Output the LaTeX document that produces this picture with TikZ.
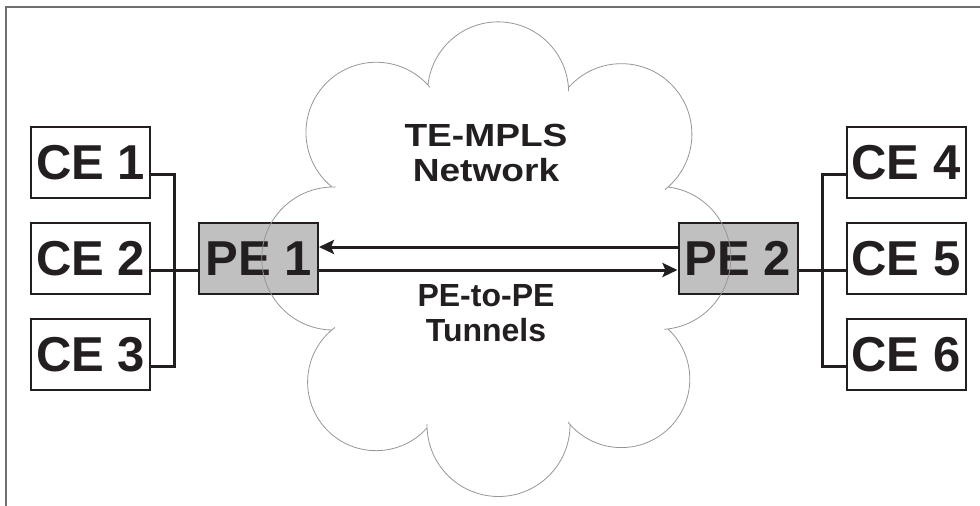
\documentclass[tikz,border=0pt]{standalone}
\usepackage{fontspec}
\setmainfont{Liberation Sans}
\newfontfamily\widefont[FakeStretch=1.16]{Liberation Sans}
\usepackage{tikz}
\usepackage{xcolor}
\usetikzlibrary{arrows.meta}
\definecolor{inkblack}{RGB}{35,31,32}
\definecolor{pegray}{RGB}{192,192,192}
\definecolor{framegray}{RGB}{110,110,110}
\definecolor{cloudgray}{RGB}{150,150,150}

\begin{document}
\begin{tikzpicture}[x=1pt, y=-1pt,
  nodebox/.style={draw=inkblack, line width=2pt, minimum width=119pt, minimum height=71pt,
    inner sep=0pt, text=inkblack, font=\bfseries\fontsize{49}{49}\selectfont},
  cebox/.style={nodebox, fill=white},
  pebox/.style={nodebox, fill=pegray},
  wire/.style={draw=inkblack, line width=3pt},
  tunnel/.style={wire, -{Stealth[length=15pt, width=14pt, inset=3pt]}},
  cloudtext/.style={inner sep=0pt, align=center, text=inkblack},
  cloudline/.style={draw=cloudgray, line width=0.8pt}]
\useasboundingbox (0,0) rectangle (980,506);
\draw[framegray, line width=2pt] (6,506) -- (6,7) -- (980,7);

\node[cebox] (ce1) at (90.5,162.5) {CE 1};
\node[cebox] (ce2) at (90.5,258.5) {CE 2};
\node[cebox] (ce3) at (90.5,354.5) {CE 3};
\node[pebox] (pe1) at (258.5,258.5) {PE 1};
\node[pebox] (pe2) at (738,258.5) {PE 2};
\node[cebox] (ce4) at (906,162.5) {CE 4};
\node[cebox] (ce5) at (906,258.5) {CE 5};
\node[cebox] (ce6) at (906,354.5) {CE 6};

\coordinate (lbus) at (174.5,270);
\coordinate (rbus) at (822,270);
\draw[wire] ([yshift=-11.5pt]ce1.east) -| (lbus) |- ([yshift=-11.5pt]ce3.east);
\draw[wire] ([yshift=-11.5pt]ce2.east) -- ([yshift=-11.5pt]pe1.west);
\draw[wire] ([yshift=-11.5pt]ce4.west) -| (rbus) |- ([yshift=-11.5pt]ce6.west);
\draw[wire] ([yshift=-11.5pt]pe2.east) -- ([yshift=-11.5pt]ce5.west);
\draw[tunnel] ([yshift=11.5pt]pe2.west) -- ([yshift=11.5pt]pe1.east);
\draw[tunnel] ([yshift=-11.5pt]pe1.east) -- ([yshift=-11.5pt]pe2.west);

\node[cloudtext, font=\widefont\bfseries\fontsize{32}{35}\selectfont] (net) at (486,153) {TE-MPLS\\Network};
\node[cloudtext, font=\bfseries\fontsize{32}{35}\selectfont] (tun) at (486,313) {PE-to-PE\\Tunnels};

\draw[cloudline] (428,85) arc[start angle=186, end angle=359, radius=70.5]
  (569,87) arc[start angle=222, end angle=412, radius=70.5]
  (668,187) arc[start angle=277, end angle=446, radius=71.5]
  (668,329) arc[start angle=313, end angle=501, radius=68.5]
  (570,425) arc[start angle=0, end angle=181, radius=71.5]
  (427,428) arc[start angle=42, end angle=233, radius=68.5]
  (332,330) arc[start angle=91, end angle=272, radius=71.5]
  (332,187) arc[start angle=129, end angle=320, radius=70.2];
\end{tikzpicture}
\end{document}
